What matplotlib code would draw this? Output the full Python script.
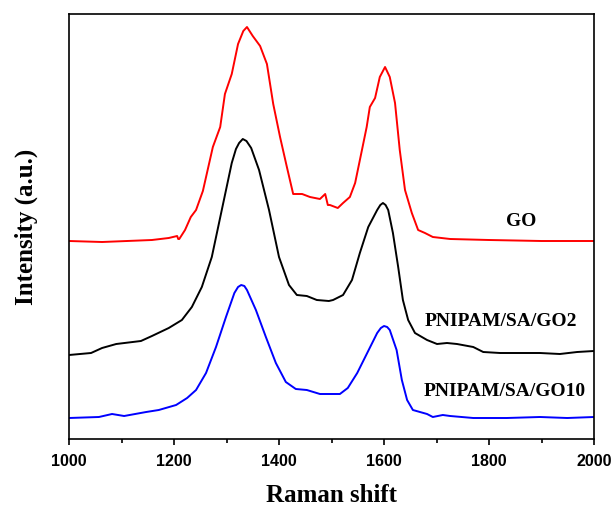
import numpy as np
import matplotlib
matplotlib.use("Agg")
import matplotlib.pyplot as plt
from matplotlib.ticker import MultipleLocator

# ----------------------------------
# Data
# ----------------------------------

go_shift = [1000, 1063, 1158, 1190, 1206, 1208, 1210, 1221, 1232, 1242,
            1255, 1274, 1288, 1297, 1310, 1322, 1332, 1339, 1350, 1364,
            1377, 1389, 1402, 1415, 1427, 1444, 1459, 1478, 1488, 1493,
            1497, 1512, 1522, 1535, 1545, 1558, 1567, 1573, 1583, 1592,
            1602, 1611, 1621, 1630, 1640, 1653, 1665, 1678, 1693, 1726,
            1800, 1900, 2000]
go_int = [198, 197, 199, 201, 203, 200, 200, 209, 222, 229,
          248, 292, 312, 345, 365, 395, 408, 412, 403, 393,
          375, 335, 302, 272, 245, 245, 242, 240, 245, 234,
          234, 231, 236, 242, 256, 289, 312, 332, 341, 362,
          372, 362, 336, 289, 249, 226, 209, 206, 202, 200,
          199, 198, 198]

go2_shift = [1000, 1042, 1063, 1090, 1137, 1158, 1190, 1215, 1234, 1253,
             1272, 1291, 1310, 1318, 1324, 1331, 1338, 1347, 1362, 1381,
             1400, 1419, 1434, 1453, 1472, 1495, 1503, 1522, 1539, 1554,
             1570, 1587, 1593, 1598, 1603, 1608, 1617, 1627, 1636, 1646,
             1659, 1682, 1701, 1720, 1739, 1770, 1789, 1821, 1865, 1897,
             1935, 1968, 2000]
go2_int = [84, 86, 91, 95, 98, 103, 111, 119, 132, 152,
           182, 229, 276, 290, 296, 300, 298, 291, 269, 229,
           182, 154, 144, 143, 139, 138, 139, 144, 159, 186,
           212, 229, 234, 236, 234, 229, 206, 172, 139, 119,
           106, 99, 95, 96, 95, 92, 87, 86, 86, 86,
           85, 87, 88]

go10_shift = [1000, 1057, 1082, 1105, 1147, 1171, 1204, 1225, 1242, 1261,
              1280, 1299, 1315, 1322, 1328, 1334, 1339, 1356, 1375, 1394,
              1413, 1432, 1453, 1478, 1516, 1531, 1549, 1568, 1587, 1594,
              1600, 1606, 1611, 1624, 1634, 1644, 1655, 1682, 1693, 1712,
              1726, 1770, 1834, 1897, 1949, 2000]
go10_int = [21, 22, 25, 23, 27, 29, 34, 41, 49, 66,
            92, 122, 146, 152, 154, 153, 149, 129, 102, 76,
            57, 50, 49, 45, 45, 51, 66, 86, 106, 111,
            113, 112, 109, 89, 59, 39, 29, 25, 22, 24,
            23, 21, 21, 22, 21, 22]

labels = ["GO", "PNIPAM/SA/GO2", "PNIPAM/SA/GO10"]
colors = ["#ff0000", "#000000", "#0000ff"]

# ----------------------------------
# Figure
# ----------------------------------

fig = plt.figure(figsize=(6.15, 5.07), dpi=100)
ax = fig.add_axes([69 / 615, 68 / 507, 525 / 615, 425 / 507])

ax.plot(go_shift, go_int, color=colors[0], linewidth=1.4)
ax.plot(go2_shift, go2_int, color=colors[1], linewidth=1.4)
ax.plot(go10_shift, go10_int, color=colors[2], linewidth=1.4)

ax.set_xlim(1000, 2000)
ax.set_ylim(0, 425)

serif_bold = dict(family="Liberation Serif", weight="bold")

ax.text(1862, 217, labels[0], ha="center", va="center",
        fontsize=14, **serif_bold)
ax.text(1822, 117, labels[1], ha="center", va="center",
        fontsize=14, **serif_bold)
ax.text(1830, 47, labels[2], ha="center", va="center",
        fontsize=14, **serif_bold)

# ----------------------------------
# Axes styling
# ----------------------------------

ax.xaxis.set_major_locator(MultipleLocator(200))
ax.xaxis.set_minor_locator(MultipleLocator(100))
ax.tick_params(axis="x", which="major", direction="out",
               length=4.5, width=1.2, pad=6)
ax.tick_params(axis="x", which="minor", direction="out",
               length=3, width=1.2)
ax.set_yticks([])

for lab in ax.get_xticklabels():
    lab.set_fontfamily("Liberation Sans")
    lab.set_fontweight("bold")
    lab.set_fontsize(11.5)

for sp in ax.spines.values():
    sp.set_linewidth(1.2)

ax.set_xlabel("Raman shift", fontsize=18, labelpad=11, **serif_bold)
ax.set_ylabel("Intensity (a.u.)", fontsize=18, labelpad=22, **serif_bold)

fig.savefig("out.png", dpi=100)
plt.close(fig)
